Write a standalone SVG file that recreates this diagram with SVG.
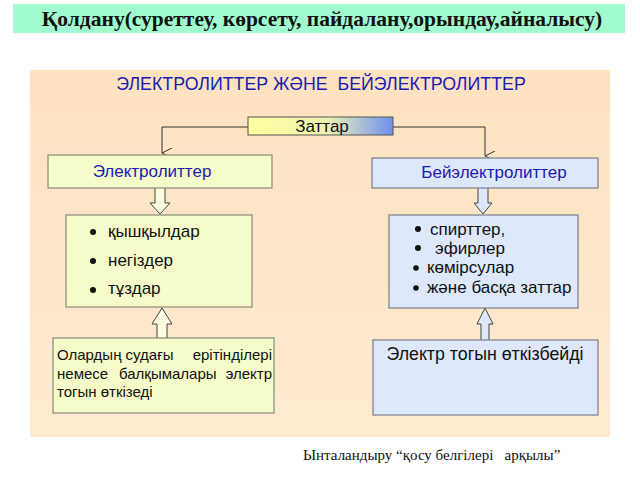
<svg xmlns="http://www.w3.org/2000/svg" width="640" height="480" viewBox="0 0 640 480">
<defs>
<linearGradient id="bg" x1="0" y1="0" x2="0" y2="1">
<stop offset="0" stop-color="#fde2c0"/>
<stop offset="1" stop-color="#fdebd2"/>
</linearGradient>
<linearGradient id="zat" x1="0" y1="0" x2="1" y2="0">
<stop offset="0" stop-color="#ffff9c"/>
<stop offset="0.55" stop-color="#eef3b4"/>
<stop offset="1" stop-color="#6f8ff0"/>
</linearGradient>
<marker id="v" viewBox="0 0 10 10" refX="5" refY="10" markerWidth="10" markerHeight="10" markerUnits="userSpaceOnUse" orient="auto-start-reverse">
<path d="M0,0 L5,10 L10,0" fill="none" stroke="#333" stroke-width="1"/>
</marker>
</defs>
<style>
.y{fill:#f5fbc9;stroke:#8a8a7a;stroke-width:1.2}
.b{fill:#dde8fb;stroke:#7a7f8a;stroke-width:1.2}
.t{font-family:"Liberation Sans",Arial,sans-serif;font-size:17px;fill:#111}
.s{font-size:15px}
.blue{fill:#1a1ab4}
.ln{fill:none;stroke:#333;stroke-width:1}
.ay{fill:#fafde0;stroke:#444;stroke-width:1}
.ab{fill:#dde8fb;stroke:#444;stroke-width:1}
</style>
<rect x="0" y="0" width="640" height="480" fill="#ffffff"/>
<g id="title">
<rect x="13" y="4" width="612" height="29" fill="#a0fcce"/>
<text x="322" y="26" text-anchor="middle" font-family="Liberation Serif,'Times New Roman',serif" font-weight="bold" font-size="21.5" fill="#111">Қолдану(суреттеу, көрсету, пайдалану,орындау,айналысу)</text>
</g>
<rect x="30" y="70" width="580" height="367" fill="url(#bg)"/>
<g id="heading">
<text x="321" y="90" text-anchor="middle" class="t blue" style="font-size:17.8px" xml:space="preserve">ЭЛЕКТРОЛИТТЕР ЖӘНЕ  БЕЙЭЛЕКТРОЛИТТЕР</text>
</g>
<g id="connectors">
<path class="ln" d="M248,127 H162 V153" marker-end="url(#v)"/>
<path class="ln" d="M393,127 H485 V156" marker-end="url(#v)"/>
<path class="ay" d="M155,188 V203 H150 L160,214 L170,203 H165 V188"/>
<path class="ab" d="M478,188 V203 H474 L483,214 L492,203 H488 V188"/>
<path class="ay" d="M157,338 V324 H152 L162,308 L172,324 H167 V338"/>
<path class="ab" d="M481,340 V324 H477 L485,308 L493,324 H489 V340"/>
</g>
<g id="zattar">
<rect x="248" y="117" width="145" height="18" fill="url(#zat)" stroke="#555" stroke-width="1"/>
<text x="322" y="132" text-anchor="middle" class="t">Заттар</text>
</g>
<g id="electrolytes">
<rect class="y" x="48" y="155" width="224" height="33"/>
<text x="152" y="177" text-anchor="middle" class="t blue">Электролиттер</text>
</g>
<g id="nonelectrolytes">
<rect class="b" x="372" y="158" width="226" height="30"/>
<text x="494" y="178" text-anchor="middle" class="t blue">Бейэлектролиттер</text>
</g>
<g id="list-left">
<rect class="y" x="66" y="215" width="186" height="92"/>
<circle cx="93" cy="232" r="3" fill="#111"/>
<text x="108" y="237" class="t">қышқылдар</text>
<circle cx="93" cy="261" r="3" fill="#111"/>
<text x="108" y="266" class="t">негіздер</text>
<circle cx="93" cy="290" r="3" fill="#111"/>
<text x="108" y="294" class="t">тұздар</text>
</g>
<g id="list-right">
<rect class="b" x="389" y="215" width="189" height="93"/>
<circle cx="418" cy="229" r="3" fill="#111"/>
<text x="430" y="235" class="t">спирттер,</text>
<circle cx="418" cy="248" r="3" fill="#111"/>
<text x="435" y="254" class="t">эфирлер</text>
<circle cx="416" cy="268" r="2.8" fill="#111"/>
<text x="427" y="273" class="t">көмірсулар</text>
<circle cx="416" cy="288" r="2.8" fill="#111"/>
<text x="427" y="293" class="t">және басқа заттар</text>
</g>
<g id="conducts">
<rect class="y" x="53" y="338" width="221" height="75"/>
<text x="57" y="360" class="t s">Олардың судағы</text>
<text x="272" y="360" text-anchor="end" class="t s">ерітінділері</text>
<text x="57" y="379" class="t s">немесе</text>
<text x="119" y="379" class="t s">балқымалары</text>
<text x="272" y="379" text-anchor="end" class="t s">электр</text>
<text x="57" y="397" class="t s">тогын өткізеді</text>
</g>
<g id="notconducts">
<rect class="b" x="373" y="340" width="225" height="75"/>
<text x="485" y="360" text-anchor="middle" class="t" style="font-size:17.8px">Электр тогын өткізбейді</text>
</g>
<g id="footer">
<text x="303" y="460" font-family="Liberation Serif,'Times New Roman',serif" font-size="15" fill="#111" xml:space="preserve">Ынталандыру “қосу белгілері   арқылы”</text>
</g>
</svg>
